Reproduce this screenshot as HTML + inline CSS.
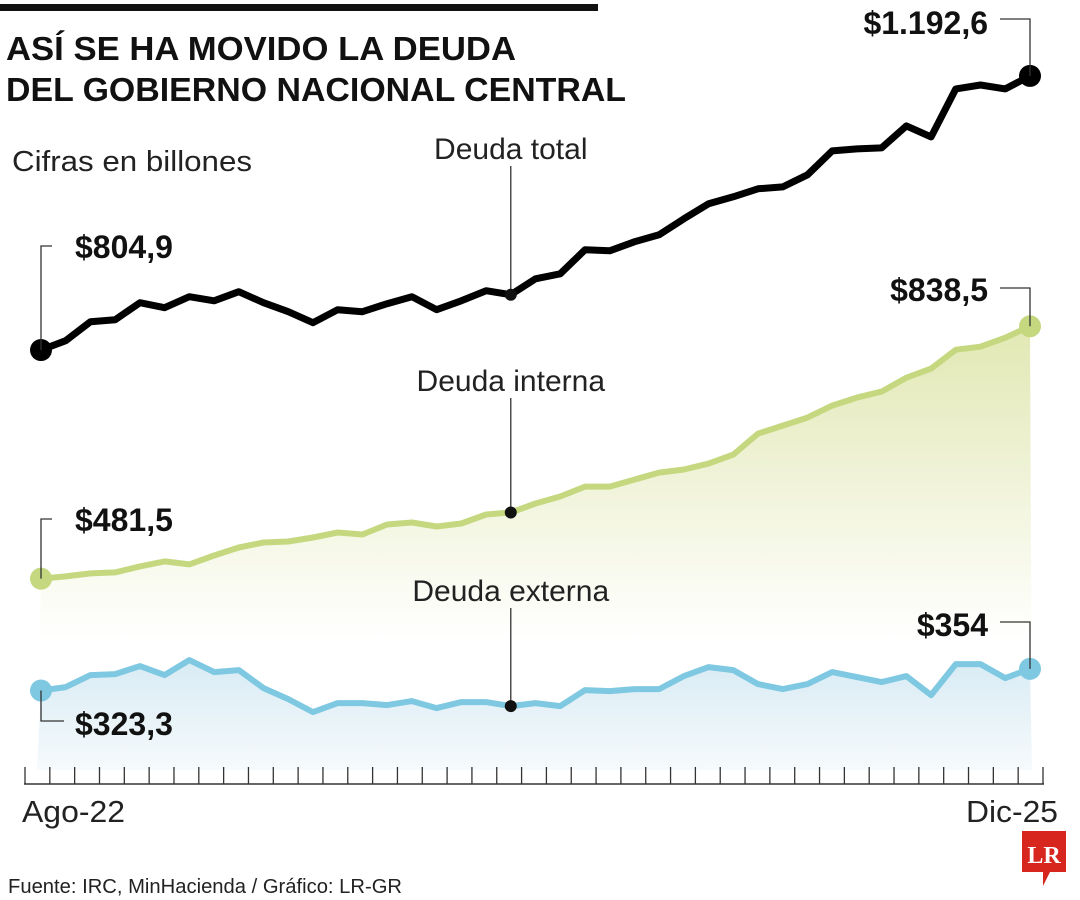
<!DOCTYPE html>
<html><head><meta charset="utf-8"><style>
body{margin:0;background:#fff;width:1080px;height:900px;overflow:hidden;font-family:"Liberation Sans",sans-serif}
svg{display:block}
</style></head><body>
<svg width="1080" height="900">
<defs>
<linearGradient id="gInt" gradientUnits="userSpaceOnUse" x1="0" y1="330" x2="0" y2="640">
<stop offset="0" stop-color="#e2e8b4"/><stop offset="1" stop-color="#ffffff"/></linearGradient>
<linearGradient id="gExt" gradientUnits="userSpaceOnUse" x1="0" y1="660" x2="0" y2="770">
<stop offset="0" stop-color="#d8ebf4"/><stop offset="1" stop-color="#f6fafc"/></linearGradient>
</defs>
<rect x="0" y="4" width="598" height="7" fill="#111"/>
<text x="6" y="60" font-size="33" font-weight="bold" fill="#111" textLength="510" lengthAdjust="spacingAndGlyphs">ASÍ SE HA MOVIDO LA DEUDA</text>
<text x="6" y="101" font-size="33" font-weight="bold" fill="#111" textLength="620" lengthAdjust="spacingAndGlyphs">DEL GOBIERNO NACIONAL CENTRAL</text>
<text x="12" y="171" font-size="29" fill="#222" textLength="240" lengthAdjust="spacingAndGlyphs">Cifras en billones</text>
<g id="areas"></g><g id="axis"></g><g id="lines"></g><g id="labels"></g>
<text x="22" y="822" font-size="31" fill="#222" textLength="103" lengthAdjust="spacingAndGlyphs">Ago-22</text>
<text x="966" y="822" font-size="31" fill="#222" textLength="92" lengthAdjust="spacingAndGlyphs">Dic-25</text>
<text x="8" y="893" font-size="20" fill="#222" textLength="394" lengthAdjust="spacingAndGlyphs">Fuente: IRC, MinHacienda / Gráfico: LR-GR</text>
<g>
<path d="M1022 831 H1066 V872 H1050 L1043 886 L1043 872 H1022 Z" fill="#d7261e"/>
<text x="1044" y="863" font-size="24" font-weight="bold" fill="#fff" text-anchor="middle" font-family="Liberation Serif,serif">LR</text>
</g>
</svg>
<script>
const months = 41;
const total = [804.9,818.1,845.0,847.8,871.8,864.8,880.3,874.6,887.4,871.8,859.1,843.6,861.9,859.1,870.4,880.3,861.9,874.6,888.8,883.1,905.7,912.8,946.7,945.3,958.0,967.9,990.5,1011.7,1021.6,1032.9,1035.7,1052.7,1086.6,1089.4,1090.8,1121.9,1106.3,1174.2,1179.8,1174.2,1192.6];
const interna = [481.5,484.7,488.9,490.4,498.8,505.9,501.7,514.3,525.6,532.7,534.1,539.8,546.8,544.0,558.1,561.0,555.3,559.5,572.3,575.1,587.8,597.7,611.8,611.8,621.7,631.6,635.9,644.3,657.0,686.7,698.0,709.3,726.3,737.6,746.1,765.8,778.6,805.4,809.6,822.3,838.5];
const externa = [323.3,328.1,345.1,346.5,357.8,345.1,366.3,349.4,352.2,326.7,311.2,292.8,305.5,305.5,302.7,308.3,298.4,306.9,306.9,301.3,305.5,301.3,323.9,322.5,325.3,325.3,343.7,356.4,352.2,332.4,325.3,332.4,349.4,342.3,335.2,343.7,316.8,360.7,360.7,340.9,354.0];
const labelTotal = ["$804,9","$1.192,6"];
const labelInt = ["$481,5","$838,5"];
const labelExt = ["$323,3","$354"];
const NS="http://www.w3.org/2000/svg";
const X = i => 41 + i*(1030-41)/(months-1);
const Y = v => 919.1 - v*0.707;
function mk(tag, attrs, parent){const e=document.createElementNS(NS,tag);for(const k in attrs)e.setAttribute(k,attrs[k]);document.getElementById(parent).appendChild(e);return e;}
function pts(arr){return arr.map((v,i)=>X(i).toFixed(1)+","+Y(v).toFixed(1)).join(" ");}
let a1 = mk("polygon",{points:"37,770 "+pts(interna)+" 1032,770",fill:"url(#gInt)"},"areas");


let a2 = mk("polygon",{points:"37,770 "+pts(externa)+" 1032,770",fill:"url(#gExt)"},"areas");


let base = mk("line",{x1:24,y1:784,x2:1044,y2:784,stroke:"#333","stroke-width":1.5},"axis");


for(let i=0;i<=months;i++){
  const x=25+i*(1043-25)/months;
  let t=mk("line",{x1:x,y1:767,x2:x,y2:784,stroke:"#333","stroke-width":1.3},"axis");
  
  
}
const series=[[total,"#000",7,"total"],[interna,"#c5d87f",6,"interna"],[externa,"#7fc8e2",6,"externa"]];
series.forEach(([arr,col,w,nm])=>{
  let l=mk("polyline",{points:pts(arr),fill:"none",stroke:col,"stroke-width":w,"stroke-linejoin":"round"},"lines");
  
  
  [0,arr.length-1].forEach(i=>{
    let c=mk("circle",{cx:X(i),cy:Y(arr[i]),r:11,fill:col},"lines");
    
    
  });
});
[[total,"Deuda total",148,167],[interna,"Deuda interna",380,167],[externa,"Deuda externa",590,187]].forEach(([arr,txt,ty,tw])=>{
  const i=19, x=X(i), y=Y(arr[i]);
  let l=mk("line",{x1:x,y1:ty+18,x2:x,y2:y,stroke:"#333","stroke-width":1.3},"labels");
  
  
  let c=mk("circle",{cx:x,cy:y,r:6,fill:"#111"},"labels");
  
  
  let t=mk("text",{x:x,y:ty+11,"font-size":30,fill:"#222","text-anchor":"middle"},"labels");
  t.textContent=txt;
  
  
});
function lbl(txt,x,y,anchor){let t=mk("text",{x:x,y:y,"font-size":32,"font-weight":"bold",fill:"#111","text-anchor":anchor},"labels");t.textContent=txt;
  
  }
function conn(d){let p=mk("path",{d:d,fill:"none",stroke:"#333","stroke-width":1.3},"labels");
  
  }
const xs=X(0), xe=X(months-1);
conn(`M${xs} ${Y(total[0])} V246 H52`); lbl(labelTotal[0],75,258,"start");
conn(`M${xe} ${Y(total[40])} V19 H1000`); lbl(labelTotal[1],988,34,"end");
conn(`M${xs} ${Y(interna[0])} V519 H52`); lbl(labelInt[0],75,531,"start");
conn(`M${xe} ${Y(interna[40])} V288 H1000`); lbl(labelInt[1],988,301,"end");
conn(`M${xs} ${Y(externa[0])} V721 H64`); lbl(labelExt[0],75,735,"start");
conn(`M${xe} ${Y(externa[40])} V622 H1000`); lbl(labelExt[1],988,636,"end");
</script>
</body></html>
